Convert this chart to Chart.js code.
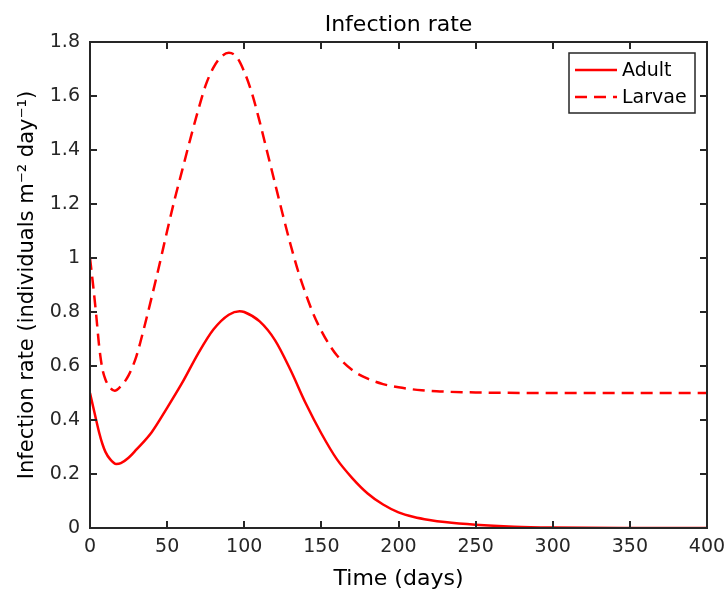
<!DOCTYPE html>
<html>
<head>
<meta charset="utf-8">
<script src="https://cdn.jsdelivr.net/npm/chart.js@4/dist/chart.umd.min.js"></script>
<style>
  html, body { margin: 0; padding: 0; background: #ffffff; }
  #wrap { width: 727px; height: 593px; position: relative; }
</style>
</head>
<body>
<div id="wrap"><canvas id="c" width="727" height="593"></canvas></div>
<script>
// ---- Data ----
const chartTitle = "Infection rate";
const xAxisTitle = "Time (days)";
const yAxisTitle = "Infection rate (individuals m\u207B\u00B2 day\u207B\u00B9)";
const seriesNames = ["Adult", "Larvae"];

const xTicks = [0, 50, 100, 150, 200, 250, 300, 350, 400];
const yTicks = [0, 0.2, 0.4, 0.6, 0.8, 1, 1.2, 1.4, 1.6, 1.8];

const adultDays = [0, 2, 4, 6, 8, 10, 13, 17, 20, 25, 30, 40, 50, 60, 70, 80, 90, 97, 100, 110, 120, 130, 140, 150, 160, 170, 180, 190, 200, 210, 220, 230, 250, 275, 300, 350, 400];
const adultRate = [0.5, 0.45, 0.40, 0.352, 0.312, 0.282, 0.255, 0.237, 0.24, 0.26, 0.29, 0.355, 0.445, 0.54, 0.645, 0.735, 0.79, 0.803, 0.80, 0.765, 0.695, 0.585, 0.46, 0.35, 0.255, 0.185, 0.128, 0.087, 0.058, 0.041, 0.030, 0.022, 0.012, 0.005, 0.002, 0.0003, 0.0];

const larvaeDays = [0, 2, 4, 6, 8, 10, 13, 16, 20, 25, 30, 35, 40, 45, 50, 55, 60, 65, 70, 75, 80, 85, 90, 95, 100, 105, 110, 115, 120, 125, 130, 135, 140, 145, 150, 155, 160, 170, 180, 190, 200, 215, 230, 250, 300, 350, 400];
const larvaeRate = [1.0, 0.90, 0.79, 0.67, 0.59, 0.55, 0.52, 0.508, 0.525, 0.565, 0.635, 0.74, 0.855, 0.975, 1.10, 1.22, 1.33, 1.44, 1.545, 1.64, 1.705, 1.745, 1.76, 1.745, 1.69, 1.61, 1.505, 1.39, 1.275, 1.16, 1.05, 0.95, 0.865, 0.79, 0.73, 0.68, 0.64, 0.585, 0.553, 0.533, 0.521, 0.51, 0.505, 0.502, 0.5, 0.5, 0.5];

// ---- Build chart ----
const FONT = '"DejaVu Sans", "Liberation Sans", Arial, sans-serif';
const AXIS = '#262626';

function toXY(xs, ys) { return xs.map((x, i) => ({ x: x, y: ys[i] })); }

const boxPlugin = {
  id: 'matlabBox',
  afterDraw(chart) {
    const ctx = chart.ctx;
    const a = chart.chartArea;
    const xs = chart.scales.x, ys = chart.scales.y;
    ctx.save();
    ctx.strokeStyle = AXIS;
    ctx.lineWidth = 2;
    const tl = 7;
    ctx.beginPath();
    xTicks.forEach(v => {
      const px = Math.round(xs.getPixelForValue(v));
      ctx.moveTo(px, a.bottom); ctx.lineTo(px, a.bottom - tl);
      ctx.moveTo(px, a.top); ctx.lineTo(px, a.top + tl);
    });
    yTicks.forEach(v => {
      const py = Math.round(ys.getPixelForValue(v));
      ctx.moveTo(a.left, py); ctx.lineTo(a.left + tl, py);
      ctx.moveTo(a.right, py); ctx.lineTo(a.right - tl, py);
    });
    ctx.stroke();
    ctx.strokeRect(a.left, a.top, a.right - a.left, a.bottom - a.top);

    // legend box
    const lx = 569, ly = 53, lw = 126, lh = 60;
    ctx.fillStyle = '#ffffff';
    ctx.fillRect(lx, ly, lw, lh);
    ctx.strokeStyle = '#262626';
    ctx.lineWidth = 1.5;
    ctx.strokeRect(lx, ly, lw, lh);
    const rows = [70, 97];
    chart.data.datasets.forEach((ds, i) => {
      ctx.strokeStyle = ds.borderColor;
      ctx.lineWidth = 2.5;
      ctx.setLineDash(ds.borderDash || []);
      ctx.beginPath();
      ctx.moveTo(575, rows[i]); ctx.lineTo(617, rows[i]);
      ctx.stroke();
      ctx.setLineDash([]);
      ctx.fillStyle = '#000000';
      ctx.font = '19px ' + FONT;
      ctx.textBaseline = 'middle';
      ctx.textAlign = 'left';
      ctx.fillText(ds.label, 622, rows[i] + 1);
    });
    ctx.restore();
  }
};

new Chart(document.getElementById('c'), {
  type: 'line',
  data: {
    datasets: [
      {
        label: seriesNames[0],
        data: toXY(adultDays, adultRate),
        borderColor: '#ff0000',
        borderWidth: 2.5,
        pointRadius: 0,
        fill: false,
        cubicInterpolationMode: 'monotone'
      },
      {
        label: seriesNames[1],
        data: toXY(larvaeDays, larvaeRate),
        borderColor: '#ff0000',
        borderWidth: 2.5,
        borderDash: [12, 7],
        pointRadius: 0,
        fill: false,
        cubicInterpolationMode: 'monotone'
      }
    ]
  },
  options: {
    responsive: false,
    animation: false,
    devicePixelRatio: 1,
    layout: { padding: { left: 0, right: 20, top: 0, bottom: 0 } },
    plugins: {
      legend: { display: false },
      tooltip: { enabled: false },
      title: {
        display: true,
        text: chartTitle,
        color: '#000000',
        font: { family: FONT, size: 22, weight: 'normal', lineHeight: 1.2 },
        padding: { top: 12, bottom: 3.6 },
        fullSize: false
      }
    },
    scales: {
      x: {
        type: 'linear',
        min: 0, max: 400,
        afterBuildTicks(s) { s.ticks = xTicks.map(v => ({ value: v })); },
        afterFit(s) { s.height = 65; s.paddingLeft = 0; s.paddingRight = 0; },
        grid: { display: false, drawTicks: false },
        border: { display: false },
        ticks: {
          color: AXIS, padding: 8, maxRotation: 0, autoSkip: false,
          font: { family: FONT, size: 19 },
          callback: v => String(v)
        },
        title: {
          display: true, text: xAxisTitle, color: '#000000',
          font: { family: FONT, size: 22 }, padding: { top: 0, bottom: 1 }
        }
      },
      y: {
        type: 'linear',
        min: 0, max: 1.8,
        afterBuildTicks(s) { s.ticks = yTicks.map(v => ({ value: v })); },
        afterFit(s) { s.width = 90; s.paddingTop = 0; s.paddingBottom = 0; },
        grid: { display: false, drawTicks: false },
        border: { display: false },
        ticks: {
          color: AXIS, padding: 10, autoSkip: false,
          font: { family: FONT, size: 19 },
          callback: v => String(Math.round(v * 10) / 10)
        },
        title: {
          display: true, text: yAxisTitle, color: '#000000',
          font: { family: FONT, size: 21 }, padding: { top: 15, bottom: 0 }
        }
      }
    }
  },
  plugins: [boxPlugin]
});
</script>
</body>
</html>
